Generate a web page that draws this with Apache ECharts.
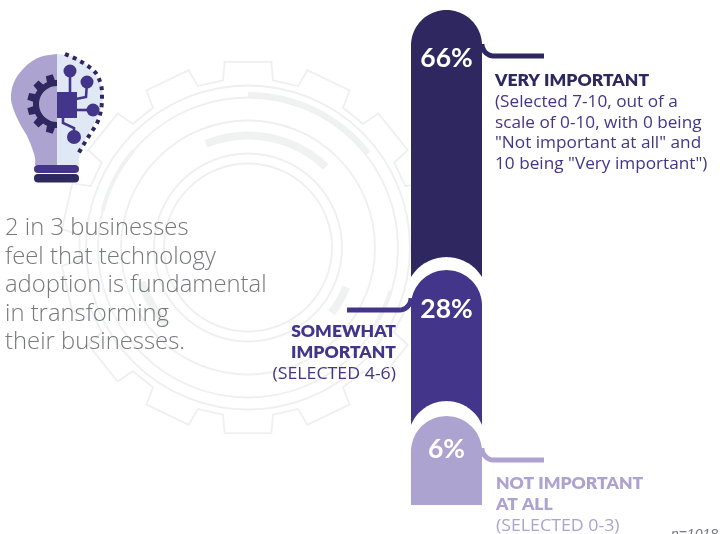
<!DOCTYPE html>
<html>
<head>
<meta charset="utf-8">
<style>html,body{margin:0;padding:0;background:#fff}#chart{width:720px;height:534px}</style>
<script src="https://cdn.jsdelivr.net/npm/echarts@6/dist/echarts.min.js"></script>
</head>
<body>
<div id="chart"></div>
<script>
// Survey responses, drawn top to bottom
const categories = ['VERY IMPORTANT', 'SOMEWHAT IMPORTANT', 'NOT IMPORTANT AT ALL'];
const shares = [66, 28, 6];

const headline = ['2 in 3 businesses', 'feel that technology', 'adoption is fundamental', 'in transforming', 'their businesses.'];
const sampleNote = 'n=1018';

const DARK = '#2F2860', MID = '#43358A', LIGHT = '#ADA3D1', PALE = '#E0E8F5', RING = '#EEEFEF', GREY = '#77787B';
const segmentColors = [DARK, MID, LIGHT];

// Each segment keeps room for its rounded head on top of the scaled body
const headRoom = [74, 67, 72];
const maskRise = [0, 13, 15];
const maskSag = [0, 20, 24];
const labelDrop = [47, 38, 32];
const leaderDrop = [46, 40, 44];
const leaderEnd = [544, 347, 544];
const leaderSide = [1, -1, 1];

// Cumulative extent of each segment, measured from the foot of the column
const extents = shares.map((v, i) => {
  const below = shares.slice(i + 1).reduce((a, b) => a + b, 0);
  return [0, below, below + v, i];
});

function domePoints(cx, hw, top, sag, foot) {
  const r = (hw * hw + sag * sag) / (2 * sag);
  const half = Math.asin(hw / r);
  const pts = [[cx - hw, foot]];
  for (let k = 0; k <= 48; k++) {
    const t = -half + (2 * half * k) / 48;
    pts.push([cx + r * Math.sin(t), top + r - r * Math.cos(t)]);
  }
  pts.push([cx + hw, foot]);
  return pts;
}

function leaderPoints(edgeX, y, side, endX) {
  const pts = [];
  const rad = 12;
  for (let k = 0; k <= 16; k++) {
    const t = (k / 16) * Math.PI / 2;
    pts.push([edgeX + side * rad * (1 - Math.cos(t)), y - rad + rad * Math.sin(t)]);
  }
  pts.push([endX, y]);
  return pts;
}

function renderSegment(params, api) {
  const idx = api.value(3);
  const band = api.size([1, 0])[0];
  const cx = api.coord([0, 0])[0];
  const hw = band / 2;
  const roomBelow = headRoom.slice(idx + 1).reduce((a, b) => a + b, 0);
  const base = api.coord([0, api.value(1)])[1] - roomBelow;
  const top = api.coord([0, api.value(2)])[1] - roomBelow - headRoom[idx];
  const foot = idx === shares.length - 1 ? base : base + 40;
  const color = segmentColors[idx];
  const children = [];
  if (maskRise[idx]) {
    children.push({
      type: 'polygon',
      shape: { points: domePoints(cx, hw, top - maskRise[idx], maskSag[idx], top + hw) },
      style: { fill: '#fff' }
    });
  }
  children.push({
    type: 'polygon',
    shape: { points: domePoints(cx, hw, top, hw, foot) },
    style: { fill: color }
  });
  const edgeX = cx + leaderSide[idx] * hw;
  children.push({
    type: 'polyline',
    shape: { points: leaderPoints(edgeX, top + leaderDrop[idx], leaderSide[idx], leaderEnd[idx]) },
    style: { stroke: color, fill: null, lineWidth: 5 }
  });
  children.push({
    type: 'text',
    style: {
      text: shares[idx] + '%', x: cx, y: top + labelDrop[idx] + 1, align: 'center', verticalAlign: 'middle',
      fill: '#fff', font: '700 26.5px Lato'
    }
  });
  return { type: 'group', children };
}

// Backdrop cog: outline, concentric rings and a few heavier arcs
const COG = { x: 248, y: 247.5 };
function cogOutline(teeth, base, outer) {
  const pts = [];
  for (let i = 0; i < teeth; i++) {
    const a = (i / teeth) * Math.PI * 2;
    const db = 25 / base, dtip = 23.5 / outer;
    [[base, a - db], [outer, a - dtip], [outer, a + dtip], [base, a + db]].forEach(([r, t]) => {
      pts.push([COG.x + r * Math.sin(t), COG.y - r * Math.cos(t)]);
    });
  }
  return pts;
}
const cogRings = [162, 150, 127, 94, 84];
const cogArcs = [
  [112, -22, 44, 8], [153, 0, 52, 5], [106, 112, 128, 8], [149, 107, 122, 4], [112, 226, 252, 8], [150, 284, 310, 4]
];
const backdrop = [
  { type: 'polygon', shape: { points: cogOutline(14, 169, 187) }, style: { fill: 'none', stroke: RING, lineWidth: 1.8 } }
].concat(cogRings.map(r => ({
  type: 'circle', shape: { cx: COG.x, cy: COG.y, r }, style: { fill: 'none', stroke: RING, lineWidth: 1.8 }
}))).concat(cogArcs.map(([r, from, to, w]) => ({
  type: 'arc',
  shape: { cx: COG.x, cy: COG.y, r, startAngle: (from - 90) * Math.PI / 180, endAngle: (to - 90) * Math.PI / 180 },
  style: { fill: 'none', stroke: '#F0F1F1', lineWidth: w }
})));

// Light bulb icon
function spline(pts) {
  const out = [];
  for (let i = 0; i < pts.length - 1; i++) {
    const p0 = pts[Math.max(i - 1, 0)], p1 = pts[i], p2 = pts[i + 1], p3 = pts[Math.min(i + 2, pts.length - 1)];
    for (let k = 0; k < 10; k++) {
      const t = k / 10, t2 = t * t, t3 = t2 * t;
      out.push([0, 1].map(d => 0.5 * (2 * p1[d] + (p2[d] - p0[d]) * t +
        (2 * p0[d] - 5 * p1[d] + 4 * p2[d] - p3[d]) * t2 + (3 * p1[d] - p0[d] - 3 * p2[d] + p3[d]) * t3)));
    }
  }
  out.push(pts[pts.length - 1]);
  return out;
}
const BULB_AXIS = 57;
const bulbProfile = [[0, 54], [17, 57], [31, 66], [42, 80], [46, 95], [44, 108], [37, 124], [30, 136], [25, 148], [22, 158], [22, 165]];
const bulbCurve = spline(bulbProfile).concat([[0, 165]]);
const leftHalf = bulbCurve.map(([d, y]) => [BULB_AXIS - d, y]);
const rightHalf = bulbCurve.map(([d, y]) => [BULB_AXIS + d, y]);

function halfCog(cx, cy, inner, base, outer, teeth) {
  const pts = [];
  const step = Math.PI / teeth;
  for (let i = 0; i < teeth; i++) {
    const a = Math.PI + step * i;
    const f = step / 4;
    pts.push([base, a], [base, a + f * 0.7], [outer, a + f * 1.1], [outer, a + f * 2.9], [base, a + f * 3.3], [base, a + step]);
  }
  const ring = pts.map(([r, t]) => [cx + r * Math.sin(t), cy + r * Math.cos(t)]);
  for (let k = 0; k <= 24; k++) {
    const t = 2 * Math.PI - (Math.PI * k) / 24;
    ring.push([cx + inner * Math.sin(t), cy + inner * Math.cos(t)]);
  }
  return ring;
}
const dotted = spline([[65, 54], [80, 61], [95, 72], [101, 85], [102, 97], [101, 110], [97, 123], [87, 139], [78, 154]]);
const wire = (points) => ({ type: 'polyline', shape: { points }, style: { stroke: MID, fill: null, lineWidth: 2.6 } });
const node = (cx, cy, r) => ({ type: 'circle', shape: { cx, cy, r }, style: { fill: MID } });
const icon = [
  { type: 'polygon', shape: { points: rightHalf }, style: { fill: PALE } },
  { type: 'polygon', shape: { points: leftHalf }, style: { fill: LIGHT } },
  { type: 'polygon', shape: { points: halfCog(57, 104, 18, 24, 30, 6) }, style: { fill: DARK } },
  { type: 'polyline', shape: { points: dotted }, style: { stroke: DARK, fill: null, lineWidth: 4, lineDash: [4, 4.5] } },
  wire([[70, 71], [70, 96]]),
  wire([[87, 82], [86, 97], [76, 99]]),
  wire([[76, 110], [93, 110]]),
  wire([[63, 117], [63, 123], [74, 128], [74, 137]]),
  { type: 'rect', shape: { x: 57, y: 92, width: 20, height: 26 }, style: { fill: MID } },
  node(70, 71, 6.5), node(87, 82, 6.5), node(93, 110, 6.5), node(74, 137, 7),
  { type: 'rect', shape: { x: 34, y: 165, width: 45, height: 8, r: 4 }, style: { fill: MID } },
  { type: 'rect', shape: { x: 34, y: 174, width: 45, height: 8.5, r: 4 }, style: { fill: DARK } }
];

// Text blocks beside the column; stretch widens the installed face to the set width
const textItem = (text, x, y, fill, font, align, stretch) => ({
  type: 'text', x, y, scaleX: stretch || 1,
  style: { text, fill, font, textAlign: align || 'left', textVerticalAlign: 'middle' }
});
const BODY = '400 15.5px "Open Sans"', CAPS = '400 16px "Open Sans"', HEAD = '800 17.5px Lato';
const notes = [
  textItem('VERY IMPORTANT', 495, 80, DARK, HEAD),
  textItem('(Selected 7-10, out of a', 495, 103, MID, BODY, 'left', 1.11),
  textItem('scale of 0-10, with 0 being', 495, 124, MID, BODY, 'left', 1.11),
  textItem('"Not important at all" and', 495, 144, MID, BODY, 'left', 1.11),
  textItem('10 being "Very important")', 495, 165, MID, BODY, 'left', 1.11),
  textItem('SOMEWHAT', 396, 331, MID, HEAD, 'right'),
  textItem('IMPORTANT', 396, 352, MID, HEAD, 'right'),
  textItem('(SELECTED 4-6)', 396, 374, MID, CAPS, 'right', 1.11),
  textItem('NOT IMPORTANT', 496, 483, LIGHT, HEAD),
  textItem('AT ALL', 496, 504, LIGHT, HEAD),
  textItem('(SELECTED 0-3)', 496, 526, LIGHT, CAPS, 'left', 1.11),
  textItem(sampleNote, 718, 535, GREY, 'italic 400 14px "Liberation Sans"', 'right')
].concat(headline.map((line, i) => textItem(line, 5, 228.5 + i * 28.5, GREY, '300 23.5px "Open Sans"', 'left', 1.014)));

const chart = echarts.init(document.getElementById('chart'), null, { renderer: 'canvas' });
chart.setOption({
  animation: false,
  backgroundColor: '#fff',
  grid: { left: 411, width: 71, top: 223, height: 282 },
  xAxis: { type: 'category', data: ['Importance'], show: false },
  yAxis: { type: 'value', min: 0, max: 100, show: false },
  graphic: { elements: backdrop.concat(icon, notes).map(el => Object.assign({ silent: true }, el)) },
  series: [{
    type: 'custom',
    name: 'Share of businesses',
    clip: false,
    silent: true,
    encode: { x: 0, y: [1, 2] },
    renderItem: renderSegment,
    data: extents
  }]
});
</script>
</body>
</html>
